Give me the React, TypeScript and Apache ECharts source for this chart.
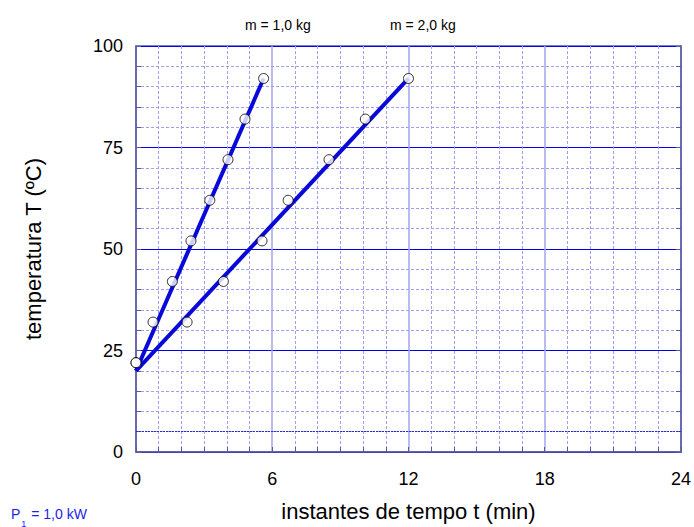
import React, { useEffect, useRef } from "react";
import * as echarts from "echarts";

// Heating of water with P1 = 1,0 kW: temperature vs time for two masses
const timeM1 = [0, 0.75, 1.6, 2.42, 3.25, 4.05, 4.8, 5.62];
const tempM1 = [22, 32, 42, 52, 62, 72, 82, 92];
const timeM2 = [0, 2.25, 3.85, 5.55, 6.7, 8.5, 10.1, 12];
const tempM2 = [22, 32, 42, 52, 62, 72, 82, 92];
// Fitted straight lines (start / end points)
const fitM1 = [[0, 20], [5.62, 92]];
const fitM2 = [[0, 20], [12, 92]];
const xTicks = [0, 6, 12, 18, 24];
const yTicks = [0, 25, 50, 75, 100];

const FONT = "'Liberation Sans', Arial, Helvetica, sans-serif";
const AXIS_COLOR = "#5a5aa2";
const LINE_BLUE = "#0808d8";
const MINOR_GRID = "#9e9ef2";

export default function App() {
  const ref = useRef<HTMLDivElement>(null);

  useEffect(() => {
    if (!ref.current) return;
    const chart = echarts.init(ref.current, null, { renderer: "svg" });

    const pairs = (xs: number[], ys: number[]) => xs.map((x, i) => [x, ys[i]]);

    chart.setOption({
      animation: false,
      backgroundColor: "#ffffff",
      textStyle: { fontFamily: FONT },
      grid: {
        left: 136,
        right: 10,
        top: 46,
        bottom: 71,
        show: true,
        borderColor: AXIS_COLOR,
        borderWidth: 1.5,
        backgroundColor: "transparent",
      },
      xAxis: {
        type: "value",
        min: xTicks[0],
        max: xTicks[xTicks.length - 1],
        interval: 6,
        name: "instantes de tempo t (min)",
        nameLocation: "middle",
        nameGap: 48,
        nameTextStyle: { fontSize: 22, color: "#000", fontFamily: FONT },
        axisLine: { show: true, lineStyle: { color: AXIS_COLOR, width: 1.5 } },
        axisTick: { show: true, inside: true, length: 5, lineStyle: { color: AXIS_COLOR } },
        minorTick: { show: true, splitNumber: 6, length: 5, lineStyle: { color: AXIS_COLOR } },
        axisLabel: { fontSize: 18, color: "#000", margin: 18, fontFamily: FONT },
        splitLine: { show: true, lineStyle: { color: "#a4a4f0", width: 1.5 } },
        minorSplitLine: { show: true, lineStyle: { color: MINOR_GRID, type: [3, 2], width: 1 } },
      },
      yAxis: [
        {
          type: "value",
          min: yTicks[0],
          max: yTicks[yTicks.length - 1],
          interval: 25,
          name: "temperatura T (ºC)",
          nameLocation: "middle",
          nameGap: 92,
          nameRotate: 90,
          nameTextStyle: { fontSize: 22, color: "#000", fontFamily: FONT },
          axisLine: { show: true, lineStyle: { color: AXIS_COLOR, width: 1.5 } },
          axisTick: { show: true, inside: true, length: 5, lineStyle: { color: AXIS_COLOR } },
          minorTick: { show: true, splitNumber: 5, length: 5, lineStyle: { color: AXIS_COLOR } },
          axisLabel: { fontSize: 18, color: "#000", margin: 13, fontFamily: FONT },
          splitLine: { show: true, lineStyle: { color: "#0000ee", width: 1.2 } },
          minorSplitLine: { show: true, lineStyle: { color: MINOR_GRID, type: [3, 2], width: 1 } },
        },
        {
          type: "value",
          position: "right",
          min: yTicks[0],
          max: yTicks[yTicks.length - 1],
          interval: 25,
          axisLine: { show: true, lineStyle: { color: AXIS_COLOR, width: 1.5 } },
          axisTick: { show: true, inside: true, length: 5, lineStyle: { color: AXIS_COLOR } },
          minorTick: { show: true, splitNumber: 5, length: 5, lineStyle: { color: AXIS_COLOR } },
          axisLabel: { show: false },
          splitLine: { show: false },
        },
      ],
      series: [
        {
          name: "ref5",
          type: "line",
          data: [],
          markLine: {
            silent: true,
            symbol: "none",
            label: { show: false },
            lineStyle: { color: "#2a2ae0", type: [2, 1], width: 1 },
            data: [{ yAxis: 5 }],
          },
        },
        {
          name: "fit m1",
          type: "line",
          data: fitM1,
          showSymbol: false,
          symbol: "none",
          lineStyle: { color: LINE_BLUE, width: 4 },
          z: 3,
        },
        {
          name: "fit m2",
          type: "line",
          data: fitM2,
          showSymbol: false,
          symbol: "none",
          lineStyle: { color: LINE_BLUE, width: 4 },
          z: 3,
        },
        {
          name: "m = 1,0 kg",
          type: "scatter",
          data: pairs(timeM1, tempM1),
          symbol: "circle",
          symbolSize: 10,
          itemStyle: { color: "#ffffff", borderColor: "#000", borderWidth: 1 },
          z: 5,
        },
        {
          name: "m = 2,0 kg",
          type: "scatter",
          data: pairs(timeM2, tempM2),
          symbol: "circle",
          symbolSize: 10,
          itemStyle: { color: "#ffffff", borderColor: "#000", borderWidth: 1 },
          z: 5,
        },
      ],
      graphic: [
        {
          type: "text",
          left: 245,
          top: 18,
          style: { text: "m = 1,0 kg", fontSize: 14, fill: "#000", fontFamily: FONT },
        },
        {
          type: "text",
          left: 390,
          top: 18,
          style: { text: "m = 2,0 kg", fontSize: 14, fill: "#000", fontFamily: FONT },
        },
        {
          type: "text",
          left: 11,
          top: 507,
          style: {
            text: "{p|P}{s|1}{p| = 1,0 kW}",
            fontFamily: FONT,
            rich: {
              p: { fontSize: 14, fill: "#1e1ee6", fontFamily: FONT, verticalAlign: "top" },
              s: { fontSize: 9, fill: "#1e1ee6", fontFamily: FONT, padding: [12, 1, 0, 1] },
            },
          },
        },
      ],
    });

    return () => chart.dispose();
  }, []);

  return (
    <div
      ref={ref}
      style={{ position: "fixed", left: 0, top: 0, width: 694, height: 527, background: "#fff" }}
    />
  );
}
